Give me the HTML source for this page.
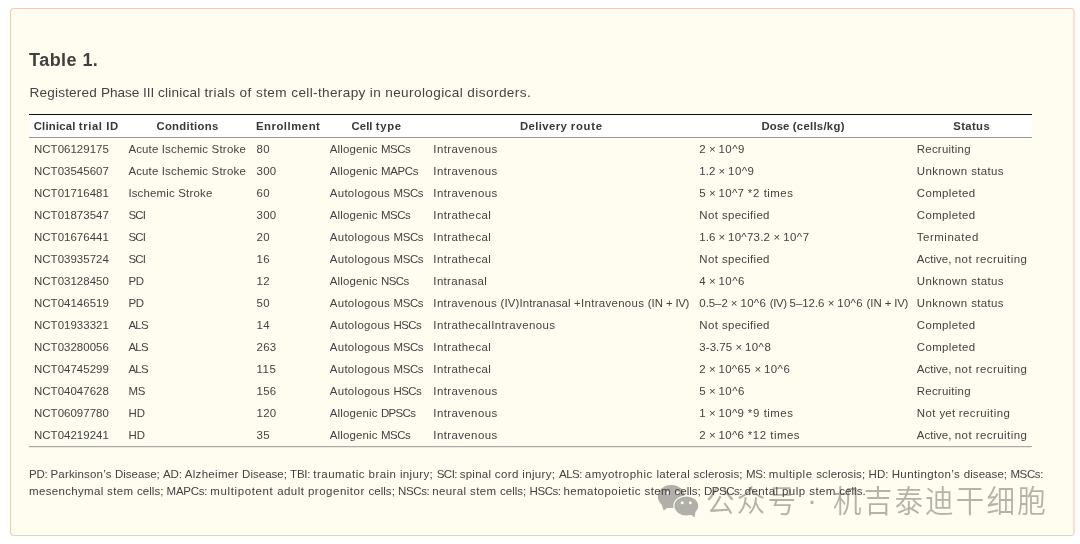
<!DOCTYPE html>
<html><head><meta charset="utf-8">
<style>
html,body{margin:0;padding:0;background:#fff;}
body{width:1080px;height:544px;position:relative;overflow:hidden;font-family:"Liberation Sans",Arial,sans-serif;}
.box{position:absolute;left:10px;top:8px;width:1065px;height:528px;box-sizing:border-box;border:1px solid #efcdbd;border-radius:4px;background:#fffcf0;border-right-color:#f4e1d8;box-shadow:inset -1px 0 0 #f4e2d6;}
.title{position:absolute;left:29px;top:47.5px;font-size:18px;font-weight:bold;color:#404040;line-height:24px;white-space:nowrap;}
.cap{position:absolute;left:29.6px;top:83px;font-size:13.6px;line-height:20px;white-space:nowrap;color:#444;}
table{position:absolute;left:29px;top:114px;border-collapse:collapse;table-layout:fixed;width:1002.6px;}
th,td{padding:0 0 0 5px;height:22px;line-height:22px;white-space:nowrap;overflow:visible;text-align:left;box-sizing:border-box;}
td{font-size:11.45px;color:#424242;}
th{font-size:11.3px;font-weight:bold;text-align:center;padding:0;background:#fff;color:#383838;}
thead tr{border-top:1px solid #111;}
thead th{border-bottom:1px solid #9a9895;}
tbody tr:last-child td{border-bottom:1px solid #adaba6;}
.fn{position:absolute;left:29px;top:466px;font-size:11.5px;line-height:17.2px;white-space:nowrap;color:#424242;}
.txt{position:absolute;left:0;top:0;width:1080px;height:544px;will-change:transform;}
.wm{will-change:transform;font-weight:350;position:absolute;font-family:"Liberation Sans","Noto Sans CJK SC","WenQuanYi Zen Hei",sans-serif;color:rgba(120,118,112,0.55);white-space:nowrap;line-height:1;}
</style></head><body>
<div class="box"></div>
<div style="position:absolute;left:29px;top:447px;width:1002px;height:1px;background:#eae8df"></div>
<svg style="position:absolute;left:0;top:0" width="1080" height="544" viewBox="0 0 1080 544">
<g fill="#b1afa9">
<ellipse cx="671.3" cy="496.5" rx="13.4" ry="11.6"/>
<path d="M661.5 503.5 L668 507.5 L663.6 510.6 Z"/>
</g>
<ellipse cx="686.3" cy="506" rx="13.1" ry="10.6" fill="#fffcf0"/>
<g fill="#b1afa9">
<ellipse cx="686.3" cy="506" rx="11.9" ry="9.4"/>
<path d="M689 513 L695.5 511.5 L694.6 517.6 Z"/>
</g>
<g fill="#fffcf0"><circle cx="682.2" cy="502.8" r="1.5"/><circle cx="690.3" cy="502.8" r="1.5"/><circle cx="667.8" cy="492.9" r="1.6"/><circle cx="677.5" cy="492.9" r="1.6"/></g>
</svg>
<div class="wm" style="left:705.5px;top:488.2px;font-size:28.5px;letter-spacing:2.2px;transform:scaleY(1.065);transform-origin:0 26px">公众号</div>
<div class="wm" style="left:807px;top:484.5px;font-size:30px">·</div>
<div class="wm" style="left:832.7px;top:488.2px;font-size:28.5px;letter-spacing:2.2px;transform:scaleY(1.065);transform-origin:0 26px">机吉泰迪干细胞</div>
<div class="txt">
<div class="title"><span style="letter-spacing:0.484px">Table </span><span style="letter-spacing:0.219px">1.</span></div>
<div class="cap"><span style="letter-spacing:0.165px">Registered </span><span style="letter-spacing:-0.055px">Phase </span><span style="letter-spacing:-0.02px">III </span><span style="letter-spacing:0.214px">clinical </span><span style="letter-spacing:0.371px">trials </span><span style="letter-spacing:0.427px">of </span><span style="letter-spacing:0.419px">stem </span><span style="letter-spacing:0.344px">cell-therapy </span><span style="letter-spacing:0.349px">in </span><span style="letter-spacing:0.382px">neurological </span><span style="letter-spacing:0.427px">disorders.</span></div>
<table>
<colgroup><col style="width:94.4px"><col style="width:128.2px"><col style="width:73.2px"><col style="width:103.6px"><col style="width:266px"><col style="width:217.4px"><col style="width:119.8px"></colgroup>
<thead><tr><th><span style="letter-spacing:0.194px">Clinical </span><span style="letter-spacing:0.583px">trial </span><span style="letter-spacing:0.547px">ID</span></th><th><span style="letter-spacing:0.312px">Conditions</span></th><th><span style="letter-spacing:0.544px">Enrollment</span></th><th><span style="letter-spacing:0.087px">Cell </span><span style="letter-spacing:0.637px">type</span></th><th><span style="letter-spacing:0.406px">Delivery </span><span style="letter-spacing:0.731px">route</span></th><th><span style="letter-spacing:0.116px">Dose </span><span style="letter-spacing:0.298px">(cells/kg)</span></th><th><span style="letter-spacing:0.378px">Status</span></th></tr></thead>
<tbody>
<tr><td><span style="letter-spacing:0.04px">NCT06129175</span></td><td><span style="letter-spacing:0.159px">Acute </span><span style="letter-spacing:0.161px">Ischemic </span><span style="letter-spacing:0.245px">Stroke</span></td><td><span style="letter-spacing:0.211px">80</span></td><td><span style="letter-spacing:0.156px">Allogenic </span><span style="letter-spacing:-0.441px">MSCs</span></td><td><span style="letter-spacing:0.399px">Intravenous</span></td><td><span style="letter-spacing:0.016px">2 </span><span style="letter-spacing:-0.141px">× </span><span style="letter-spacing:0.465px">10^9</span></td><td><span style="letter-spacing:0.253px">Recruiting</span></td></tr>
<tr><td><span style="letter-spacing:0.04px">NCT03545607</span></td><td><span style="letter-spacing:0.159px">Acute </span><span style="letter-spacing:0.161px">Ischemic </span><span style="letter-spacing:0.245px">Stroke</span></td><td><span style="letter-spacing:0.214px">300</span></td><td><span style="letter-spacing:0.156px">Allogenic </span><span style="letter-spacing:-0.3px">MAPCs</span></td><td><span style="letter-spacing:0.399px">Intravenous</span></td><td><span style="letter-spacing:0.023px">1.2 </span><span style="letter-spacing:-0.141px">× </span><span style="letter-spacing:0.465px">10^9</span></td><td><span style="letter-spacing:0.441px">Unknown </span><span style="letter-spacing:0.349px">status</span></td></tr>
<tr><td><span style="letter-spacing:0.04px">NCT01716481</span></td><td><span style="letter-spacing:0.161px">Ischemic </span><span style="letter-spacing:0.245px">Stroke</span></td><td><span style="letter-spacing:0.211px">60</span></td><td><span style="letter-spacing:0.312px">Autologous </span><span style="letter-spacing:-0.441px">MSCs</span></td><td><span style="letter-spacing:0.399px">Intravenous</span></td><td><span style="letter-spacing:0.016px">5 </span><span style="letter-spacing:-0.141px">× </span><span style="letter-spacing:0.331px">10^7 </span><span style="letter-spacing:0.635px">*2 </span><span style="letter-spacing:0.453px">times</span></td><td><span style="letter-spacing:0.389px">Completed</span></td></tr>
<tr><td><span style="letter-spacing:0.04px">NCT01873547</span></td><td><span style="letter-spacing:-0.771px">SCI</span></td><td><span style="letter-spacing:0.214px">300</span></td><td><span style="letter-spacing:0.156px">Allogenic </span><span style="letter-spacing:-0.441px">MSCs</span></td><td><span style="letter-spacing:0.405px">Intrathecal</span></td><td><span style="letter-spacing:0.422px">Not </span><span style="letter-spacing:0.278px">specified</span></td><td><span style="letter-spacing:0.389px">Completed</span></td></tr>
<tr><td><span style="letter-spacing:0.04px">NCT01676441</span></td><td><span style="letter-spacing:-0.771px">SCI</span></td><td><span style="letter-spacing:0.211px">20</span></td><td><span style="letter-spacing:0.312px">Autologous </span><span style="letter-spacing:-0.441px">MSCs</span></td><td><span style="letter-spacing:0.405px">Intrathecal</span></td><td><span style="letter-spacing:0.023px">1.6 </span><span style="letter-spacing:-0.141px">× </span><span style="letter-spacing:0.242px">10^73.2 </span><span style="letter-spacing:-0.141px">× </span><span style="letter-spacing:0.465px">10^7</span></td><td><span style="letter-spacing:0.55px">Terminated</span></td></tr>
<tr><td><span style="letter-spacing:0.04px">NCT03935724</span></td><td><span style="letter-spacing:-0.771px">SCI</span></td><td><span style="letter-spacing:0.211px">16</span></td><td><span style="letter-spacing:0.312px">Autologous </span><span style="letter-spacing:-0.441px">MSCs</span></td><td><span style="letter-spacing:0.405px">Intrathecal</span></td><td><span style="letter-spacing:0.422px">Not </span><span style="letter-spacing:0.278px">specified</span></td><td><span style="letter-spacing:0.055px">Active, </span><span style="letter-spacing:0.496px">not </span><span style="letter-spacing:0.458px">recruiting</span></td></tr>
<tr><td><span style="letter-spacing:0.04px">NCT03128450</span></td><td><span style="letter-spacing:-0.312px">PD</span></td><td><span style="letter-spacing:0.211px">12</span></td><td><span style="letter-spacing:0.156px">Allogenic </span><span style="letter-spacing:-0.543px">NSCs</span></td><td><span style="letter-spacing:0.344px">Intranasal</span></td><td><span style="letter-spacing:0.016px">4 </span><span style="letter-spacing:-0.141px">× </span><span style="letter-spacing:0.465px">10^6</span></td><td><span style="letter-spacing:0.441px">Unknown </span><span style="letter-spacing:0.349px">status</span></td></tr>
<tr><td><span style="letter-spacing:0.04px">NCT04146519</span></td><td><span style="letter-spacing:-0.312px">PD</span></td><td><span style="letter-spacing:0.211px">50</span></td><td><span style="letter-spacing:0.312px">Autologous </span><span style="letter-spacing:-0.441px">MSCs</span></td><td><span style="letter-spacing:0.35px">Intravenous </span><span style="letter-spacing:0.111px">(IV)Intranasal </span><span style="letter-spacing:0.316px">+Intravenous </span><span style="letter-spacing:-0.047px">(IN </span><span style="letter-spacing:-0.141px">+ </span><span style="letter-spacing:-0.385px">IV)</span></td><td><span style="letter-spacing:-0.052px">0.5–2 </span><span style="letter-spacing:-0.141px">× </span><span style="letter-spacing:0.331px">10^6 </span><span style="letter-spacing:-0.353px">(IV) </span><span style="letter-spacing:-0.016px">5–12.6 </span><span style="letter-spacing:-0.141px">× </span><span style="letter-spacing:0.331px">10^6 </span><span style="letter-spacing:-0.047px">(IN </span><span style="letter-spacing:-0.141px">+ </span><span style="letter-spacing:-0.385px">IV)</span></td><td><span style="letter-spacing:0.441px">Unknown </span><span style="letter-spacing:0.349px">status</span></td></tr>
<tr><td><span style="letter-spacing:0.04px">NCT01933321</span></td><td><span style="letter-spacing:-0.677px">ALS</span></td><td><span style="letter-spacing:0.211px">14</span></td><td><span style="letter-spacing:0.312px">Autologous </span><span style="letter-spacing:-0.59px">HSCs</span></td><td><span style="letter-spacing:0.402px">IntrathecalIntravenous</span></td><td><span style="letter-spacing:0.422px">Not </span><span style="letter-spacing:0.278px">specified</span></td><td><span style="letter-spacing:0.389px">Completed</span></td></tr>
<tr><td><span style="letter-spacing:0.04px">NCT03280056</span></td><td><span style="letter-spacing:-0.677px">ALS</span></td><td><span style="letter-spacing:0.214px">263</span></td><td><span style="letter-spacing:0.312px">Autologous </span><span style="letter-spacing:-0.441px">MSCs</span></td><td><span style="letter-spacing:0.405px">Intrathecal</span></td><td><span style="letter-spacing:0.058px">3-3.75 </span><span style="letter-spacing:-0.141px">× </span><span style="letter-spacing:0.465px">10^8</span></td><td><span style="letter-spacing:0.389px">Completed</span></td></tr>
<tr><td><span style="letter-spacing:0.04px">NCT04745299</span></td><td><span style="letter-spacing:-0.677px">ALS</span></td><td><span style="letter-spacing:0.5px">115</span></td><td><span style="letter-spacing:0.312px">Autologous </span><span style="letter-spacing:-0.441px">MSCs</span></td><td><span style="letter-spacing:0.405px">Intrathecal</span></td><td><span style="letter-spacing:0.016px">2 </span><span style="letter-spacing:-0.141px">× </span><span style="letter-spacing:0.312px">10^65 </span><span style="letter-spacing:-0.141px">× </span><span style="letter-spacing:0.465px">10^6</span></td><td><span style="letter-spacing:0.055px">Active, </span><span style="letter-spacing:0.496px">not </span><span style="letter-spacing:0.458px">recruiting</span></td></tr>
<tr><td><span style="letter-spacing:0.04px">NCT04047628</span></td><td><span style="letter-spacing:-0.25px">MS</span></td><td><span style="letter-spacing:0.214px">156</span></td><td><span style="letter-spacing:0.312px">Autologous </span><span style="letter-spacing:-0.59px">HSCs</span></td><td><span style="letter-spacing:0.399px">Intravenous</span></td><td><span style="letter-spacing:0.016px">5 </span><span style="letter-spacing:-0.141px">× </span><span style="letter-spacing:0.465px">10^6</span></td><td><span style="letter-spacing:0.253px">Recruiting</span></td></tr>
<tr><td><span style="letter-spacing:0.04px">NCT06097780</span></td><td><span style="letter-spacing:0.148px">HD</span></td><td><span style="letter-spacing:0.214px">120</span></td><td><span style="letter-spacing:0.156px">Allogenic </span><span style="letter-spacing:-0.641px">DPSCs</span></td><td><span style="letter-spacing:0.399px">Intravenous</span></td><td><span style="letter-spacing:0.016px">1 </span><span style="letter-spacing:-0.141px">× </span><span style="letter-spacing:0.331px">10^9 </span><span style="letter-spacing:0.635px">*9 </span><span style="letter-spacing:0.453px">times</span></td><td><span style="letter-spacing:0.422px">Not </span><span style="letter-spacing:0.219px">yet </span><span style="letter-spacing:0.458px">recruiting</span></td></tr>
<tr><td><span style="letter-spacing:0.04px">NCT04219241</span></td><td><span style="letter-spacing:0.148px">HD</span></td><td><span style="letter-spacing:0.211px">35</span></td><td><span style="letter-spacing:0.156px">Allogenic </span><span style="letter-spacing:-0.441px">MSCs</span></td><td><span style="letter-spacing:0.399px">Intravenous</span></td><td><span style="letter-spacing:0.016px">2 </span><span style="letter-spacing:-0.141px">× </span><span style="letter-spacing:0.331px">10^6 </span><span style="letter-spacing:0.531px">*12 </span><span style="letter-spacing:0.453px">times</span></td><td><span style="letter-spacing:0.055px">Active, </span><span style="letter-spacing:0.496px">not </span><span style="letter-spacing:0.458px">recruiting</span></td></tr>
</tbody>
</table>
<div class="fn"><span style="letter-spacing:-0.223px">PD: </span><span style="letter-spacing:0.171px">Parkinson’s </span><span style="letter-spacing:0.005px">Disease; </span><span style="letter-spacing:-0.133px">AD: </span><span style="letter-spacing:0.298px">Alzheimer </span><span style="letter-spacing:0.005px">Disease; </span><span style="letter-spacing:-0.216px">TBI: </span><span style="letter-spacing:0.481px">traumatic </span><span style="letter-spacing:0.432px">brain </span><span style="letter-spacing:0.357px">injury; </span><span style="letter-spacing:-0.512px">SCI: </span><span style="letter-spacing:0.263px">spinal </span><span style="letter-spacing:0.369px">cord </span><span style="letter-spacing:0.357px">injury; </span><span style="letter-spacing:-0.459px">ALS: </span><span style="letter-spacing:0.48px">amyotrophic </span><span style="letter-spacing:0.332px">lateral </span><span style="letter-spacing:0.111px">sclerosis; </span><span style="letter-spacing:-0.191px">MS: </span><span style="letter-spacing:0.512px">multiple </span><span style="letter-spacing:0.111px">sclerosis; </span><span style="letter-spacing:0.016px">HD: </span><span style="letter-spacing:0.395px">Huntington’s </span><span style="letter-spacing:0.069px">disease; </span><span style="letter-spacing:-0.359px">MSCs:</span><br><span style="letter-spacing:0.329px">mesenchymal </span><span style="letter-spacing:0.366px">stem </span><span style="letter-spacing:0.02px">cells; </span><span style="letter-spacing:-0.241px">MAPCs: </span><span style="letter-spacing:0.62px">multipotent </span><span style="letter-spacing:0.438px">adult </span><span style="letter-spacing:0.51px">progenitor </span><span style="letter-spacing:0.02px">cells; </span><span style="letter-spacing:-0.398px">NSCs: </span><span style="letter-spacing:0.391px">neural </span><span style="letter-spacing:0.366px">stem </span><span style="letter-spacing:0.02px">cells; </span><span style="letter-spacing:-0.43px">HSCs: </span><span style="letter-spacing:0.454px">hematopoietic </span><span style="letter-spacing:0.366px">stem </span><span style="letter-spacing:0.02px">cells; </span><span style="letter-spacing:-0.487px">DPSCs: </span><span style="letter-spacing:0.393px">dental </span><span style="letter-spacing:0.469px">pulp </span><span style="letter-spacing:0.366px">stem </span><span style="letter-spacing:0.055px">cells.</span></div>
</div>
</body></html>
